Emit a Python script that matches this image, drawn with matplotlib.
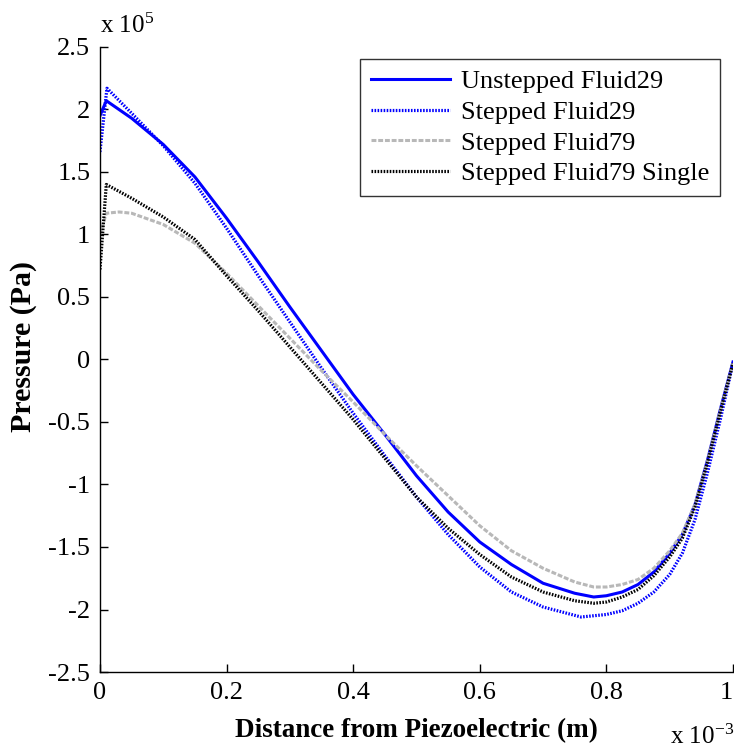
import numpy as np
import matplotlib
matplotlib.use("Agg")
import matplotlib.pyplot as plt

plt.rcParams['font.family'] = ['Liberation Serif', 'DejaVu Serif']
plt.rcParams['mathtext.fontset'] = 'stix'
plt.rcParams['axes.unicode_minus'] = False

# distance in units of 1e-3 m, pressure in units of 1e5 Pa
x_unstep = [0.0, 0.01, 0.05, 0.1, 0.15, 0.2, 0.25, 0.3, 0.35, 0.4, 0.45, 0.5, 0.55,
            0.6, 0.65, 0.7, 0.75, 0.78, 0.8, 0.825, 0.85, 0.875, 0.9, 0.92, 0.94, 0.96, 0.98, 1.0]
p_unstep = [1.95, 2.07, 1.93, 1.72, 1.46, 1.13, 0.78, 0.42, 0.07, -0.28, -0.60, -0.93, -1.22,
            -1.46, -1.64, -1.79, -1.87, -1.90, -1.89, -1.86, -1.80, -1.70, -1.55, -1.40, -1.16,
            -0.80, -0.40, -0.02]

x_step29 = [0.0, 0.011, 0.05, 0.1, 0.15, 0.2, 0.25, 0.3, 0.35, 0.4, 0.45, 0.5, 0.55,
            0.6, 0.65, 0.7, 0.76, 0.8, 0.825, 0.85, 0.875, 0.9, 0.92, 0.94, 0.96, 0.98, 1.0]
p_step29 = [1.66, 2.17, 1.97, 1.71, 1.41, 1.05, 0.67, 0.30, -0.07, -0.43, -0.77, -1.10, -1.40,
            -1.66, -1.86, -1.98, -2.06, -2.04, -2.01, -1.95, -1.86, -1.72, -1.55, -1.28,
            -0.90, -0.48, -0.03]

x_step79 = [0.0, 0.01, 0.03, 0.05, 0.1, 0.15, 0.2, 0.25, 0.3, 0.35, 0.4, 0.45, 0.5, 0.55,
            0.6, 0.65, 0.7, 0.75, 0.78, 0.8, 0.825, 0.85, 0.875, 0.9, 0.92, 0.94, 0.96, 0.98, 1.0]
p_step79 = [1.00, 1.17, 1.18, 1.17, 1.08, 0.93, 0.69, 0.43, 0.17, -0.09, -0.34, -0.60, -0.85, -1.09,
            -1.33, -1.53, -1.67, -1.78, -1.82, -1.82, -1.80, -1.76, -1.67, -1.53, -1.39, -1.16,
            -0.81, -0.41, -0.03]

x_single = [0.0, 0.01, 0.05, 0.1, 0.15, 0.2, 0.25, 0.3, 0.35, 0.4, 0.45, 0.5, 0.55,
            0.6, 0.65, 0.7, 0.75, 0.78, 0.8, 0.825, 0.85, 0.875, 0.9, 0.92, 0.94, 0.96, 0.98, 1.0]
p_single = [0.72, 1.40, 1.29, 1.14, 0.96, 0.67, 0.39, 0.10, -0.19, -0.48, -0.79, -1.10, -1.35,
            -1.56, -1.74, -1.86, -1.93, -1.95, -1.94, -1.90, -1.84, -1.73, -1.58, -1.43, -1.18,
            -0.82, -0.42, -0.03]

labels = ['Unstepped Fluid29', 'Stepped Fluid29', 'Stepped Fluid79', 'Stepped Fluid79 Single']
xticks = [0, 0.2, 0.4, 0.6, 0.8, 1]
xticklabels = ['0', '0.2', '0.4', '0.6', '0.8', '1']
yticks = [-2.5, -2, -1.5, -1, -0.5, 0, 0.5, 1, 1.5, 2, 2.5]
yticklabels = ['-2.5', '-2', '-1.5', '-1', '-0.5', '0', '0.5', '1', '1.5', '2', '2.5']

fig = plt.figure(figsize=(7.34, 7.48), dpi=100)
ax = fig.add_axes([0.1362, 0.1016, 0.8624, 0.8356])

dots = (0, (0.5, 0.45))
ax.plot(x_unstep, p_unstep, color='#0000ff', lw=2.2, ls='-', label=labels[0])
ax.plot(x_step29, p_step29, color='#0000ff', lw=2.3, ls=dots, label=labels[1])
ax.plot(x_step79, p_step79, color='#b8b8b8', lw=2.2, ls=(0, (1.6, 0.6)), label=labels[2])
ax.plot(x_single, p_single, color='black', lw=2.3, ls=dots, label=labels[3])

ax.set_xlim(0, 1)
ax.set_ylim(-2.5, 2.5)
ax.set_xticks(xticks)
ax.set_xticklabels(xticklabels)
ax.set_yticks(yticks)
ax.set_yticklabels(yticklabels)
ax.tick_params(direction='in', length=6, width=1, labelsize=19, pad=7)
# last tick label sits on the figure edge, keep it inside
ax.get_xticklabels()[-1].set_ha('right')
ax.spines['top'].set_visible(False)
ax.spines['right'].set_visible(False)
for s in ['left', 'bottom']:
    ax.spines[s].set_linewidth(1)

ax.set_xlabel('Distance from Piezoelectric (m)', fontsize=19.5, fontweight='bold', labelpad=10)
ax.set_ylabel('Pressure (Pa)', fontsize=21.5, fontweight='bold')
ax.yaxis.set_label_coords(-0.1, 0.52)

fig.text(0.136, 0.956, r'x 10$^{\mathregular{5}}$', fontsize=18, ha='left', va='baseline')
fig.text(1.0, 0.005, r'x 10$^{\mathregular{-3}}$', fontsize=18, ha='right', va='baseline')

leg = ax.legend(loc='upper right', bbox_to_anchor=(0.9795, 0.981), fontsize=19,
                frameon=True, fancybox=False, edgecolor='#333333', framealpha=1,
                handlelength=3.0, labelspacing=0.27, borderpad=0.42, handletextpad=0.4,
                borderaxespad=0)
leg.get_frame().set_linewidth(1)

fig.savefig('out.png', dpi=100)
